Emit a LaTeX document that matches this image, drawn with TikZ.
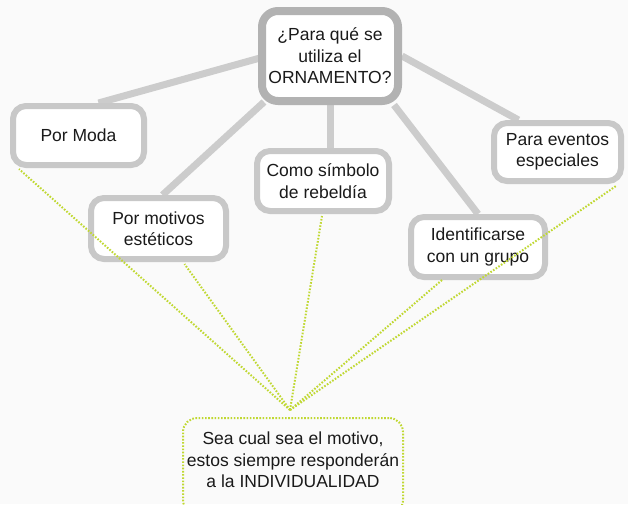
\documentclass[tikz,border=0pt]{standalone}
\usepackage{fontspec}
\setmainfont{Liberation Sans}
\usetikzlibrary{calc,backgrounds}
\definecolor{bg}{HTML}{FAFAFA}
\definecolor{boxgray}{HTML}{C8C8C8}
\definecolor{maingray}{HTML}{B2B2B2}
\definecolor{linkgray}{HTML}{CCCCCC}
\definecolor{dotgreen}{HTML}{C0D832}
\definecolor{txt}{HTML}{1A1A1A}
\begin{document}
\begin{tikzpicture}[x=1pt,y=-1pt,
  every node/.style={font=\fontsize{17.5}{21.5}\selectfont, text=txt, align=center},
  mainbox/.style={draw=maingray, line width=8pt, fill=white, rounded corners=16pt,
    minimum width=136pt, minimum height=90pt, inner sep=0pt},
  topicbox/.style={draw=boxgray, line width=6pt, fill=white, rounded corners=13pt,
    inner sep=0pt},
  notebox/.style={draw=dotgreen, line width=2pt, dash pattern=on 1.6pt off 1.6pt,
    fill=none, rounded corners=14pt, minimum width=220pt, minimum height=96pt, inner sep=0pt},
  link/.style={draw=linkgray, line width=7pt},
  dotlink/.style={draw=dotgreen, line width=2pt, dash pattern=on 1.6pt off 1.6pt}]
\useasboundingbox (0,0) rectangle (628,504);

\node[mainbox] (c) at (330,56) {¿Para qué se\\utiliza el\\ORNAMENTO?};
\node[topicbox, minimum width=131pt, minimum height=59pt] (moda) at (78.5,135.5) {Por Moda};
\node[topicbox, minimum width=135pt, minimum height=61pt] (mot) at (158.5,228.5) {Por motivos\\estéticos};
\node[topicbox, minimum width=132pt, minimum height=60pt] (como) at (323,181) {Como símbolo\\de rebeldía};
\node[topicbox, minimum width=134pt, minimum height=60pt] (ident) at (478,247) {Identificarse\\con un grupo};
\node[topicbox, minimum width=127pt, minimum height=58pt] (ev) at (557.5,152) {Para eventos\\especiales};
\node[notebox] (note) at (293,466) {};
\node (notetext) at (293,460) {Sea cual sea el motivo,\\estos siempre responderán\\a la INDIVIDUALIDAD};
\coordinate (conv) at ($(note.north)+(-3,-7)$);

\begin{scope}[on background layer]
\fill[bg] (0,0) rectangle (628,504);
\draw[link] ($(c.west)+(2,2)$) -- ($(moda.north)+(20,0)$);
\draw[link] ($(c.south west)+(6,-3)$) -- ($(mot.north)+(4,0)$);
\draw[link] (c.south) -- ($(como.north)+(7,0)$);
\draw[link] ($(c.south east)+(-8,0)$) -- (ident.north);
\draw[link] (c.east) -- ($(ev.north)+(-39,0)$);
\end{scope}

\draw[dotlink] (conv) -- ($(moda.south west)+(9,1)$);
\draw[dotlink] (conv) -- ($(mot.south)+(26,2)$);
\draw[dotlink] (conv) -- ($(como.south)+(-1,2)$);
\draw[dotlink] (conv) -- ($(ident.south)+(-36,0)$);
\draw[dotlink] (conv) -- ($(ev.south east)+(-8,2)$);
\end{tikzpicture}
\end{document}
